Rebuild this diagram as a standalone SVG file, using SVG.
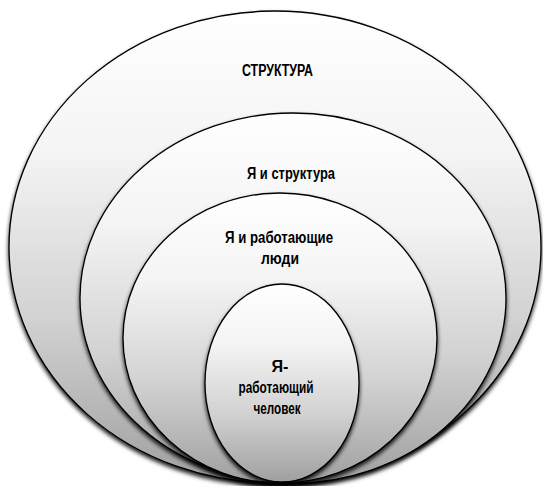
<svg xmlns="http://www.w3.org/2000/svg" width="543" height="486" viewBox="0 0 543 486">
<defs>
<linearGradient id="g" x1="0" y1="0" x2="0" y2="1">
<stop offset="0" stop-color="#ffffff"/>
<stop offset="0.3" stop-color="#f4f4f4"/>
<stop offset="0.65" stop-color="#d2d2d2"/>
<stop offset="1" stop-color="#a0a0a0"/>
</linearGradient>
<filter id="sh" x="-10%" y="-10%" width="120%" height="125%">
<feDropShadow dx="0" dy="3" stdDeviation="2" flood-color="#000" flood-opacity="0.9"/>
</filter>
<style>
.e{fill:url(#g);stroke:#000;stroke-width:1.3;filter:url(#sh)}
.t{font-family:"Liberation Sans",Arial,sans-serif;font-weight:bold;font-size:16px;fill:#000;text-anchor:middle}
</style>
</defs>
<rect width="543" height="486" fill="#fff"/>
<g id="n1"><ellipse class="e" cx="275" cy="247" rx="266" ry="236"/><text class="t" x="277.5" y="76" textLength="71" lengthAdjust="spacingAndGlyphs">СТРУКТУРА</text></g>
<g id="n2"><ellipse class="e" cx="293" cy="298" rx="213" ry="185"/><text class="t" x="291" y="179" textLength="88" lengthAdjust="spacingAndGlyphs">Я и структура</text></g>
<g id="n3"><ellipse class="e" cx="280" cy="338" rx="157" ry="145"/><text class="t" x="279" y="243" textLength="108" lengthAdjust="spacingAndGlyphs">Я и работающие</text><text class="t" x="280" y="264" textLength="38" lengthAdjust="spacingAndGlyphs">люди</text></g>
<g id="n4"><ellipse class="e" cx="282" cy="383" rx="77" ry="99"/><text class="t" x="280" y="372" textLength="17" lengthAdjust="spacingAndGlyphs">Я-</text><text class="t" x="276" y="393" textLength="75" lengthAdjust="spacingAndGlyphs">работающий</text><text class="t" x="277" y="414" textLength="47" lengthAdjust="spacingAndGlyphs">человек</text></g>
<g id="connectors"/>
</svg>
